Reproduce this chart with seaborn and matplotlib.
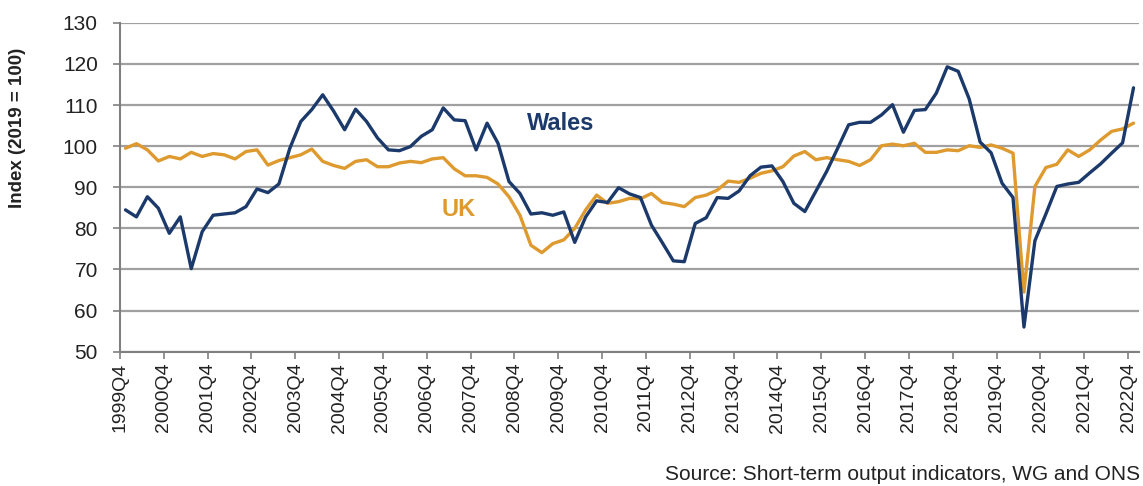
import pandas as pd
import matplotlib.pyplot as plt
import seaborn as sns

# quarterly index, 1999Q4 .. 2022Q4 (2019 = 100)
wales = [84.5, 82.8, 87.7, 84.9, 78.8, 82.8, 70.2, 79.2, 83.2, 83.5,
         83.8, 85.3, 89.6, 88.7, 90.8, 99.5, 106.0, 108.9, 112.5, 108.5,
         104.0, 109.0, 106.0, 102.0, 99.1, 98.9, 99.9, 102.4, 104.0, 109.3,
         106.4, 106.2, 99.1, 105.6, 100.7, 91.4, 88.5, 83.5, 83.8, 83.2,
         84.0, 76.6, 82.8, 86.7, 86.3, 89.9, 88.4, 87.5, 80.8, 76.5,
         72.1, 71.9, 81.2, 82.6, 87.5, 87.3, 89.1, 92.8, 94.9, 95.2,
         91.4, 86.1, 84.1, 89.0, 93.9, 99.5, 105.2, 105.8, 105.8, 107.6,
         110.1, 103.4, 108.7, 108.9, 112.9, 119.3, 118.2, 111.5, 101.0, 98.4,
         91.0, 87.5, 56.0, 77.0, 83.5, 90.2, 90.8, 91.2, 93.5, 95.7,
         98.3, 100.8, 114.2]
uk = [99.5, 100.6, 99.1, 96.4, 97.5, 96.9, 98.5, 97.5, 98.2, 97.9,
      96.9, 98.7, 99.1, 95.4, 96.5, 97.2, 97.9, 99.3, 96.3, 95.3,
      94.6, 96.3, 96.7, 95.0, 95.0, 95.9, 96.3, 96.0, 96.9, 97.2,
      94.5, 92.8, 92.8, 92.4, 90.8, 87.7, 83.2, 75.9, 74.1, 76.3,
      77.2, 80.0, 84.5, 88.1, 86.1, 86.5, 87.3, 87.2, 88.5, 86.3,
      85.9, 85.3, 87.5, 88.1, 89.3, 91.5, 91.2, 92.2, 93.4, 94.0,
      95.0, 97.6, 98.7, 96.7, 97.2, 96.7, 96.3, 95.3, 96.7, 100.1,
      100.5, 100.1, 100.7, 98.5, 98.5, 99.1, 98.9, 100.1, 99.7, 100.3,
      99.5, 98.3, 64.5, 90.2, 94.8, 95.6, 99.1, 97.5, 99.1, 101.5,
      103.6, 104.2, 105.6]
tick_labels = ['1999Q4', '2000Q4', '2001Q4', '2002Q4', '2003Q4', '2004Q4',
               '2005Q4', '2006Q4', '2007Q4', '2008Q4', '2009Q4', '2010Q4',
               '2011Q4', '2012Q4', '2013Q4', '2014Q4', '2015Q4', '2016Q4',
               '2017Q4', '2018Q4', '2019Q4', '2020Q4', '2021Q4', '2022Q4']

colors = {'Wales': '#1B3A6B', 'UK': '#DE9A2E'}

n = len(wales)
df = pd.DataFrame({
    'pos': list(range(n)) * 2,
    'value': wales + uk,
    'area': ['Wales'] * n + ['UK'] * n,
})
df['pos'] = df['pos'] + 0.5  # points sit mid-category, ticks on boundaries

sns.set_style('white')
plt.rcParams['font.family'] = ['Liberation Sans', 'DejaVu Sans']

fig = plt.figure(figsize=(11.43, 4.86), dpi=100)
ax = fig.add_axes([0.105, 0.2763, 0.8915, 0.6767])

sns.lineplot(data=df, x='pos', y='value', hue='area', hue_order=['UK', 'Wales'],
             palette=colors, linewidth=2.4, legend=False, ax=ax)

ax.set_xlim(0, n)
ax.set_ylim(50, 130)
ax.set_yticks(range(50, 131, 10))
ax.set_xticks(range(0, n, 4))
ax.set_xticklabels(tick_labels, rotation=90, fontsize=14)
ax.tick_params(axis='y', labelsize=15, length=5, width=1.2, color='#808080',
               pad=11, direction='out', left=True, labelcolor='#222222')
ax.tick_params(axis='x', length=5, width=1.2, color='#808080', pad=3,
               direction='out', bottom=True, labelcolor='#222222')

ax.yaxis.grid(True, color='#A0A0A0', linewidth=1.6)
ax.set_axisbelow(True)
for side in ['top', 'right']:
    ax.spines[side].set_visible(False)
for side in ['left', 'bottom']:
    ax.spines[side].set_color('#808080')
    ax.spines[side].set_linewidth(1.5)

ax.set_xlabel('')
ax.set_ylabel('')
fig.text(18 / 1143, 1 - 128 / 486, 'Index (2019 = 100)', rotation=90,
         ha='center', va='center', fontsize=13.5, fontweight='bold',
         color='#222222')

ax.text(40.2, 105.5, 'Wales', color=colors['Wales'], fontsize=17,
        fontweight='bold', ha='center', va='center')
ax.text(30.9, 84.6, 'UK', color=colors['UK'], fontsize=17,
        fontweight='bold', ha='center', va='center')

fig.text(1140 / 1143, 1 - 474 / 486,
         'Source: Short-term output indicators, WG and ONS',
         ha='right', va='center', fontsize=15, color='#222222')

fig.savefig('out.png', dpi=100)
